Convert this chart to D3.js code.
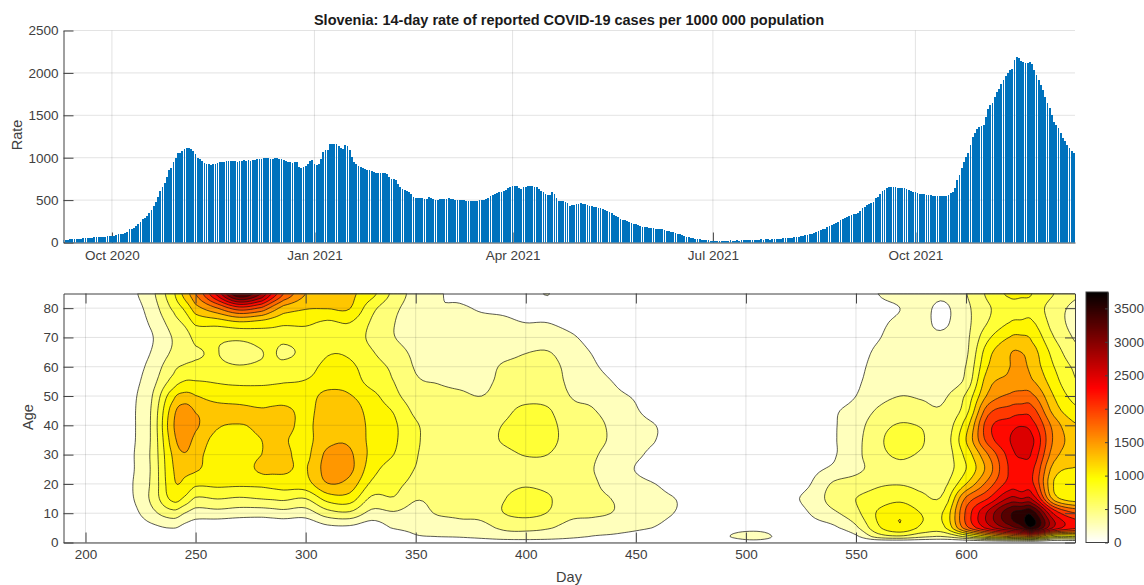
<html>
<head>
<meta charset="utf-8">
<script src="https://d3js.org/d3.v7.min.js"></script>
<style>
body {margin:0; background:#fff;}
text {font-family:"Liberation Sans",Arial,sans-serif; fill:#404040;}
.axis text {font-size:13.5px;}
.axis path, .axis line {stroke:#404040; stroke-width:1;}
.grid line {stroke:#262626; stroke-opacity:0.13; stroke-width:1;}
</style>
</head>
<body>
<svg width="1144" height="585"></svg>
<script>
// 14-day rate, one value per day, day 190 (9 Sep 2020) onward
const rate = [
30,33,35,37,38,40,42,44,46,48,
50,52,55,57,59,61,62,64,66,68,
72,74,76,80,88,98,102,105,110,118,
155,165,175,195,220,245,272,290,315,345,
380,430,480,540,610,650,705,770,860,880,
950,1000,1050,1060,1080,1100,1110,1110,1100,1075,
1040,1000,985,960,935,920,920,915,925,930,
935,950,950,955,965,960,958,965,960,955,
962,958,972,960,968,966,968,970,985,985,
990,995,995,1000,985,990,995,1000,990,980,
970,960,950,945,940,945,955,885,880,890,
905,930,960,970,925,915,925,985,1070,1085,
1090,1160,1160,1160,1160,1140,1120,1100,1155,1140,
1090,1010,945,925,905,885,880,870,860,850,
840,830,825,820,818,815,815,805,770,745,
745,740,690,660,630,615,610,600,575,540,
530,520,525,520,515,510,540,525,510,500,
505,510,515,512,510,520,518,512,505,505,
500,498,496,495,492,490,490,492,495,500,
500,505,510,520,545,560,570,578,590,600,
605,620,640,655,665,670,665,640,635,650,
660,662,668,665,660,650,630,610,590,575,
555,565,590,570,520,495,490,485,480,470,
430,440,445,455,458,460,458,452,440,430,
425,420,415,412,405,395,385,372,360,345,
325,312,295,280,270,265,255,245,235,222,
215,205,195,188,182,178,174,170,168,165,
162,160,155,148,140,132,125,118,112,102,
95,88,78,68,60,55,48,44,40,38,
35,32,28,25,22,20,18,18,20,17,
22,16,20,24,18,22,26,22,28,24,
30,26,24,32,28,34,30,36,32,36,
38,34,40,36,42,46,44,50,48,52,
54,58,64,68,70,74,78,84,92,98,
100,110,120,132,145,155,165,180,198,210,
220,228,245,260,278,290,298,310,322,334,
340,345,375,410,420,440,455,470,480,520,
540,570,610,625,640,650,650,652,650,648,
645,640,638,630,618,605,600,590,582,575,
570,568,565,558,555,552,550,548,547,545,
548,552,565,580,600,640,735,800,875,950,
1010,1050,1150,1240,1290,1340,1360,1370,1385,1480,
1580,1620,1650,1710,1780,1810,1870,1920,1960,2000,
2030,2050,2150,2190,2170,2140,2125,2115,2120,2125,
2100,2040,1975,1920,1860,1800,1720,1650,1590,1500,
1425,1380,1350,1290,1230,1195,1150,1110,1075,1050
];
const monthTicks = [new Date(2020,9,1), new Date(2021,0,1), new Date(2021,3,1), new Date(2021,6,1), new Date(2021,9,1)];
const rateTicks = [0,500,1000,1500,2000,2500];

// age by day surface, one list per day column, ages as in gridAges
const gridAges = [0,2,5,10,15,20,25,30,35,40,45,50,55,60,65,70,75,80,85];
const gridDays = [190,200,210,220,230,240,245,250,260,270,280,285,290,300,310,320,330,340,350,360,370,380,390,400,410,420,430,440,450,460,470,480,490,500,510,520,530,540,550,560,570,580,590,600,610,620,625,630,640,650];
const caseGrid = [
[0,5,10,15,20,25,25,25,25,25,25,20,20,15,15,10,15,15,20],
[0,5,15,30,40,45,45,45,40,40,40,35,30,25,20,20,25,30,40],
[0,5,20,60,90,100,95,90,90,85,85,80,70,50,40,35,45,60,80],
[0,10,40,130,200,215,200,200,190,190,190,180,150,120,90,80,100,130,180],
[0,40,180,420,550,540,530,540,530,530,520,480,400,330,260,230,290,360,430],
[0,60,260,650,1080,1200,1250,1300,1400,1480,1400,1180,850,680,540,520,620,800,950],
[0,45,170,500,950,1200,1300,1480,1600,1700,1620,1330,1010,780,640,620,800,1050,1350],
[0,30,100,380,720,1050,1280,1330,1420,1540,1480,1260,1010,800,730,820,1050,1400,1750],
[0,20,60,400,760,1050,1100,1120,1160,1280,1380,1120,980,800,755,800,1100,1750,2600],
[0,15,40,360,720,1040,1110,1130,1160,1240,1330,1100,960,770,640,810,1200,2150,3500],
[0,15,40,350,760,1060,1300,1250,1250,1290,1280,1070,970,800,740,870,1150,1950,3000],
[0,15,45,375,780,1090,1300,1280,1260,1300,1310,1070,980,830,780,880,1100,1650,2450],
[0,15,50,400,800,1120,1290,1300,1270,1320,1330,1070,990,840,690,840,1050,1400,2000],
[0,15,50,370,750,1150,1230,1190,1180,1200,1170,1100,1010,920,830,900,1040,1270,1500],
[0,50,180,640,1100,1490,1600,1560,1430,1400,1400,1350,1100,1050,980,900,960,1260,1350],
[0,50,190,700,1130,1400,1560,1540,1460,1430,1380,1270,1130,1050,960,900,1000,1260,1300],
[0,30,100,420,700,950,1100,1180,1180,1180,1150,1080,900,850,770,690,720,830,1080],
[0,60,270,470,730,820,880,1000,1040,1040,980,830,750,700,600,510,510,560,680],
[20,220,320,400,520,680,740,770,790,780,690,600,530,480,450,400,370,380,400],
[40,250,340,520,570,590,610,630,640,640,600,550,490,430,380,320,280,260,270],
[60,270,420,540,600,620,630,640,640,630,590,530,460,410,370,330,300,270,210],
[80,320,430,570,630,650,670,680,680,660,590,500,450,400,370,330,290,230,150],
[100,400,540,750,740,690,670,700,770,760,680,590,550,530,420,330,280,210,100],
[100,420,550,820,830,730,690,760,860,870,820,650,590,560,490,340,250,180,120],
[90,390,520,740,780,680,660,750,830,830,780,650,600,580,510,370,250,170,260],
[80,310,420,560,590,570,570,610,650,640,560,500,460,430,370,290,180,100,50],
[60,240,370,540,540,530,510,530,570,590,520,440,350,290,240,170,100,50,20],
[40,210,340,490,490,420,380,420,460,440,380,310,240,170,120,70,40,15,5],
[20,160,290,370,370,320,240,290,320,320,270,220,110,70,40,20,10,5,0],
[10,100,230,310,300,240,120,180,240,240,140,80,40,20,10,5,5,0,0],
[5,60,120,220,230,130,60,60,60,70,40,25,15,10,5,5,0,0,0],
[10,40,60,80,80,50,30,25,25,25,20,15,10,5,5,0,0,0,0],
[100,220,150,40,25,15,10,10,10,10,10,5,5,5,0,0,0,0,0],
[200,290,200,50,25,15,10,10,10,10,10,5,5,5,5,0,0,0,0],
[180,270,180,60,40,25,15,15,15,15,10,10,10,5,5,5,5,0,0],
[40,120,50,130,200,130,40,30,30,30,25,20,15,15,10,10,10,5,5],
[0,60,150,270,330,260,190,130,120,110,70,40,25,20,15,10,10,5,5],
[0,80,210,450,620,540,300,230,230,230,220,140,100,80,60,40,30,20,20],
[0,200,450,680,750,620,440,430,420,390,330,250,210,180,150,120,90,60,60],
[0,600,950,1030,850,720,600,680,700,650,530,420,360,330,290,235,210,190,250],
[0,700,1200,1210,930,740,700,780,830,770,620,500,430,390,360,330,280,250,300],
[0,550,950,990,800,700,620,720,770,730,560,480,390,340,310,290,290,300,330],
[0,500,960,1030,820,690,620,610,620,600,540,470,380,340,310,290,220,210,300],
[0,800,1900,2050,1800,1250,1000,1080,1250,1130,900,790,570,510,450,440,430,440,490],
[0,1200,2600,2800,2250,1850,1600,1750,2100,2150,1900,1550,1400,1250,1150,950,760,720,800],
[0,1500,3100,3450,2800,2350,2290,2350,2500,2380,2100,1800,1560,1500,1480,1260,1010,880,1050],
[0,1600,3350,3600,2750,2320,2300,2560,2680,2480,2160,1830,1650,1570,1500,1290,1040,900,1040],
[0,1700,3700,3650,2700,2300,2300,2450,2550,2350,2100,1800,1530,1400,1350,1200,1030,900,1000],
[0,1000,2700,2450,1400,1230,1380,1600,1700,1650,1400,1240,1100,1000,900,750,640,620,750],
[0,1000,2300,2000,1100,1100,1230,1350,1400,1270,1060,900,760,700,560,470,420,440,530]
];
const levels = [250,500,750,1000,1250,1500,1750,2000,2250,2500,2750,3000,3250,3500,3750];
const dayTicks = [200,250,300,350,400,450,500,550,600];
const ageTicks = [0,10,20,30,40,50,60,70,80];
const barTicks = [0,500,1000,1500,2000,2500,3000,3500];

const svg = d3.select('svg');
const left = 63.5, right = 1075;
const topY = [30.5, 242.5], botY = [293.5, 542.5];
const startDate = new Date(2020,8,9);

const color = d3.scaleLinear().domain([0,950,2300,3745]).range(['#ffffff','#ffff00','#ff0000','#000000']);

// upper panel
const xTime = d3.scaleTime().domain([startDate, d3.timeHour.offset(startDate, 459.5*24)]).range([left,right]);
const yRate = d3.scaleLinear().domain([0,2500]).range([topY[1],topY[0]]);

svg.append('g').attr('class','grid').selectAll('line').data(monthTicks).enter().append('line')
  .attr('x1',d=>xTime(d)).attr('x2',d=>xTime(d)).attr('y1',topY[0]).attr('y2',topY[1]);
svg.append('g').attr('class','grid').selectAll('line').data(rateTicks).enter().append('line')
  .attr('x1',left).attr('x2',right).attr('y1',d=>yRate(d)).attr('y2',d=>yRate(d));

svg.append('g').attr('class','axis').attr('transform','translate(0,'+topY[1]+')')
  .call(d3.axisBottom(xTime).tickValues(monthTicks).tickFormat(d3.timeFormat('%b %Y')).tickSize(-10).tickSizeOuter(0).tickPadding(8));
svg.append('g').attr('class','axis').attr('transform','translate('+left+',0)')
  .call(d3.axisLeft(yRate).tickValues(rateTicks).tickFormat(d3.format('d')).tickSize(-10).tickSizeOuter(0).tickPadding(5));

svg.append('clipPath').attr('id','topclip').append('rect').attr('x',left).attr('y',topY[0]).attr('width',right-left).attr('height',topY[1]-topY[0]);
const barW = (right-left)/459.5*0.8;
svg.append('g').attr('clip-path','url(#topclip)').selectAll('rect').data(rate).enter().append('rect')
  .attr('x',(d,i)=>xTime(d3.timeDay.offset(startDate,i))-barW/2)
  .attr('width',barW)
  .attr('y',d=>yRate(d))
  .attr('height',d=>topY[1]-yRate(d))
  .attr('fill','#0072bd')
  .attr('shape-rendering','crispEdges');

svg.append('text').attr('x',569).attr('y',24.5).attr('text-anchor','middle')
  .style('font-size','14.5px').style('font-weight','bold').style('fill','#1a1a1a')
  .text('Slovenia: 14-day rate of reported COVID-19 cases per 1000 000 population');
svg.append('text').attr('transform','translate(22,135) rotate(-90)').attr('text-anchor','middle')
  .style('font-size','14.5px').text('Rate');

// lower panel: grid refined with a cubic so the contours come out round
function cubic(a,b,c,d,t){
  return b + 0.5*t*(c-a + t*(2*a-5*b+4*c-d + t*(3*(b-c)+d-a)));
}
const k = 6;
const nc = gridDays.length, nr = gridAges.length;
const fw = (nc-1)*k+1, fh = (nr-1)*k+1;
const fine = new Float64Array(fw*fh);
function at(c,r){ return caseGrid[Math.max(0,Math.min(nc-1,c))][Math.max(0,Math.min(nr-1,r))]; }
for (let j=0;j<fh;j++) for (let i=0;i<fw;i++) {
  const c=Math.floor(i/k), tc=i/k-c, r=Math.floor(j/k), tr=j/k-r;
  const col=[-1,0,1,2].map(o=>cubic(at(c-1,r+o),at(c,r+o),at(c+1,r+o),at(c+2,r+o),tc));
  fine[j*fw+i]=cubic(col[0],col[1],col[2],col[3],tr);
}
const contours = d3.contours().size([fw,fh]).thresholds(levels)(fine);

const xDay = d3.scaleLinear().domain([190,649.5]).range([left,right]);
const yAge = d3.scaleLinear().domain([0,85]).range([botY[1],botY[0]]);
const dayOfIndex = d3.scaleLinear().domain(d3.range(nc)).range(gridDays).clamp(true);
const ageOfIndex = d3.scaleLinear().domain(d3.range(nr)).range(gridAges).clamp(true);
const path = d3.geoPath(d3.geoTransform({point:function(x,y){
  this.stream.point(xDay(dayOfIndex((x-0.5)/k)), yAge(ageOfIndex((y-0.5)/k)));
}}));

svg.append('clipPath').attr('id','botclip').append('rect').attr('x',left).attr('y',botY[0]).attr('width',right-left).attr('height',botY[1]-botY[0]);
svg.append('g').attr('clip-path','url(#botclip)').selectAll('path').data(contours).enter().append('path')
  .attr('d',path)
  .attr('fill',d=>color(d.value))
  .attr('fill-rule','evenodd')
  .attr('stroke','#111')
  .attr('stroke-width',0.7);

svg.append('g').attr('class','grid').selectAll('line').data(dayTicks).enter().append('line')
  .attr('x1',d=>xDay(d)).attr('x2',d=>xDay(d)).attr('y1',botY[0]).attr('y2',botY[1]);
svg.append('g').attr('class','grid').selectAll('line').data(ageTicks).enter().append('line')
  .attr('x1',left).attr('x2',right).attr('y1',d=>yAge(d)).attr('y2',d=>yAge(d));

svg.append('g').attr('class','axis').attr('transform','translate(0,'+botY[1]+')')
  .call(d3.axisBottom(xDay).tickValues(dayTicks).tickSize(-10).tickSizeOuter(0).tickPadding(7));
svg.append('g').attr('class','axis').attr('transform','translate(0,'+botY[0]+')')
  .call(d3.axisTop(xDay).tickValues(dayTicks).tickSize(-10).tickSizeOuter(0).tickFormat(''));
svg.append('g').attr('class','axis').attr('transform','translate('+left+',0)')
  .call(d3.axisLeft(yAge).tickValues(ageTicks).tickSize(-10).tickSizeOuter(0).tickPadding(5));
svg.append('g').attr('class','axis').attr('transform','translate('+right+',0)')
  .call(d3.axisRight(yAge).tickValues(ageTicks).tickSize(-10).tickSizeOuter(0).tickFormat(''));

svg.append('text').attr('transform','translate(33,417) rotate(-90)').attr('text-anchor','middle')
  .style('font-size','14.5px').text('Age');
svg.append('text').attr('x',569).attr('y',582).attr('text-anchor','middle')
  .style('font-size','14.5px').text('Day');

// colour bar
const barX = 1086, barW2 = 22;
const yBar = d3.scaleLinear().domain([0,3745]).range([botY[1],292]);
svg.append('g').attr('shape-rendering','crispEdges').selectAll('rect').data(d3.range(0,3745,10)).enter().append('rect')
  .attr('x',barX).attr('width',barW2)
  .attr('y',d=>yBar(d+10)).attr('height',yBar(0)-yBar(11))
  .attr('fill',d=>color(d));
svg.append('rect').attr('x',barX).attr('y',292).attr('width',barW2).attr('height',botY[1]-292)
  .attr('fill','none').attr('stroke','#404040');
svg.append('g').attr('class','axis').attr('transform','translate('+(barX+barW2)+',0)')
  .call(d3.axisRight(yBar).tickValues(barTicks).tickFormat(d3.format('d')).tickSize(-3).tickSizeOuter(0).tickPadding(6));
</script>
</body>
</html>
